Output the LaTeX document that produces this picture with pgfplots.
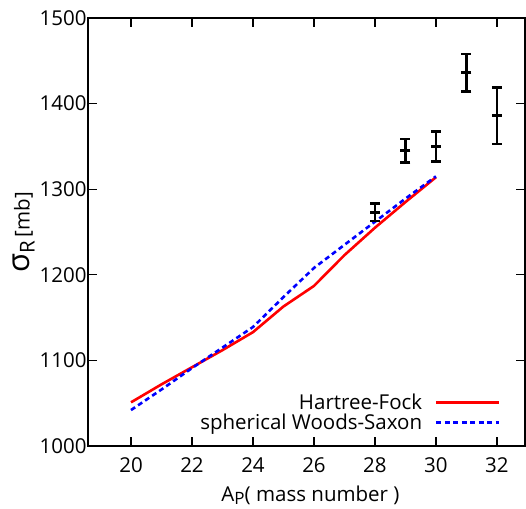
\documentclass[border=0pt]{standalone}
\usepackage{pgfplots}
\pgfplotsset{compat=1.18}
\usepackage{fontspec}
\setmainfont{Open Sans}
\begin{document}
\begin{tikzpicture}
\begin{axis}[
  name=ax,
  scale only axis,
  width=437pt, height=428pt,
  xmin=18.59, xmax=32.92,
  ymin=1000, ymax=1500,
  xtick={20,22,...,32},
  ytick={1000,1100,...,1500},
  tick align=inside,
  major tick length=9pt,
  minor tick num=0,
  axis line style={line width=1.8pt},
  every tick/.style={line width=1.3pt, black},
  font=\fontsize{20.5}{24}\selectfont,
  /pgf/number format/assume math mode=true,
  /pgf/number format/1000 sep={},
  xticklabel style={yshift=-8pt},
  yticklabel style={xshift=2pt},
  xlabel={A\raisebox{-3pt}{\fontsize{17}{17}\selectfont P}( mass number )},
  ylabel={\fontsize{31}{31}\selectfont σ\raisebox{-5pt}{\fontsize{20.5}{20.5}\selectfont R}\fontsize{20.5}{24}\selectfont\,[mb]},
  xlabel style={yshift=-6pt, xshift=4pt},
  ylabel style={yshift=-2pt},
  legend plot pos=right,
  legend cell align=right,
  legend style={draw=none, fill=none, inner sep=0pt, at={(rel axis cs:0.945,0.03)}, anchor=south east, row sep=-1pt, column sep=11pt, font=\fontsize{20.5}{24}\selectfont},
  legend image code/.code={\draw[#1] (0pt,0pt) -- (63pt,0pt);},
]
\addplot[red, line width=2.6pt, no marks] coordinates {
(20,1051) (21,1072) (22,1092) (23,1112) (24,1133) (25,1163) (26,1187) (27,1223) (28,1255) (29,1285) (30,1314)};
\addlegendentry{Hartree-Fock}
\addplot[blue, line width=2.6pt, dash pattern=on 5pt off 3.5pt, no marks] coordinates {
(20,1042) (21,1066) (22,1091) (23,1115) (24,1139) (25,1174) (26,1208) (27,1235) (28,1262) (29,1289) (30,1315)};
\addlegendentry{spherical Woods-Saxon}
\addplot[black, only marks, mark=-, mark size=5pt, mark options={line width=2.6pt},
  error bars/.cd, y dir=both, y explicit,
  error bar style={line width=2.6pt},
  error mark options={rotate=90, mark size=5pt, line width=2.6pt}]
  coordinates {
(28,1273) +- (0,10)
(29,1345) +- (0,13.5)
(30,1350) +- (0,17.5)
(31,1436) +- (0,22)
(32,1386) +- (0,33)};
\end{axis}
\pgfresetboundingbox
\path ([xshift=-88pt,yshift=-62pt]ax.south west) rectangle ([xshift=1pt,yshift=18pt]ax.north east);
\end{tikzpicture}
\end{document}
